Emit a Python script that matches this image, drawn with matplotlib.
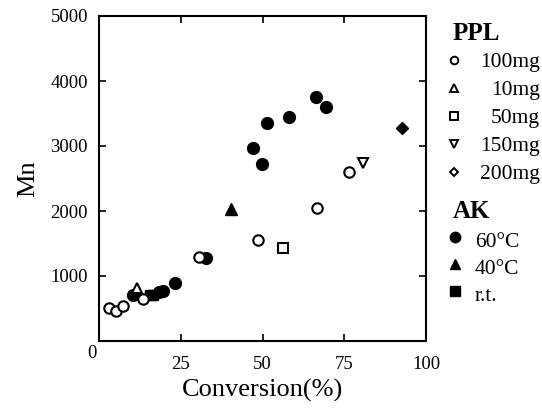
import matplotlib.pyplot as plt
from matplotlib.lines import Line2D

plt.rcParams['font.family'] = ['Liberation Serif', 'DejaVu Serif']

# AK series (filled)
ak60_x = [10.4, 18.5, 19.5, 23.3, 32.6, 47.1, 49.9, 51.4, 58.0, 66.3, 69.4]
ak60_y = [705, 760, 765, 885, 1283, 2965, 2725, 3359, 3441, 3757, 3604]
ak40_x = [40.4]
ak40_y = [2024]
akrt_x = [15.6, 16.6]
akrt_y = [705, 705]
ak200_x = [92.6]
ak200_y = [3277]

# PPL series (open)
ppl100_x = [3.1, 5.1, 7.3, 13.4, 30.5, 48.7, 66.8, 76.3]
ppl100_y = [511, 460, 541, 640, 1288, 1549, 2045, 2597]
ppl10_x = [11.7]
ppl10_y = [823]
ppl50_x = [56.3]
ppl50_y = [1431]
ppl150_x = [80.7]
ppl150_y = [2741]

ppl_labels = ['100mg', '10mg', '50mg', '150mg', '200mg']
ppl_markers = ['o', '^', 's', 'v', 'D']
ak_labels = ['60°C', '40°C', 'r.t.']
ak_markers = ['o', '^', 's']

W, H = 542, 411
fig = plt.figure(figsize=(W / 100, H / 100), dpi=100)
ax = fig.add_axes([99 / W, 1 - 341 / H, 327 / W, 325 / H])

ms = 8.5
ax.plot(ak60_x, ak60_y, 'o', color='black', ms=ms, ls='none')
ax.plot(ak40_x, ak40_y, '^', color='black', ms=ms, ls='none')
ax.plot(akrt_x, akrt_y, 's', color='black', ms=7, ls='none')
ax.plot(ak200_x, ak200_y, 'D', color='black', ms=6.5, ls='none')

open_kw = dict(mfc='white', mec='black', mew=1.5, ls='none')
ax.plot(ppl100_x, ppl100_y, 'o', ms=7.5, **open_kw)
ax.plot(ppl10_x, ppl10_y, '^', ms=7.5, **open_kw)
ax.plot(ppl50_x, ppl50_y, 's', ms=7.5, **open_kw)
ax.plot(ppl150_x, ppl150_y, 'v', ms=7.5, **open_kw)

ax.set_xlim(0, 98.8)
ax.set_ylim(0, 5000)
ax.set_xticks([0, 25, 50, 75, 100])
ax.set_xticklabels(['', '25', '50', '75', '100'])
ax.set_yticks([1000, 2000, 3000, 4000, 5000])
ax.tick_params(direction='in', top=True, right=True, length=5, width=1.2,
               labelsize=13.5)
ax.tick_params(axis='x', pad=11)
ax.tick_params(axis='y', pad=8)
for s in ax.spines.values():
    s.set_linewidth(1.5)
fig.text(92 / W, 1 - 353 / H, '0', ha='center', va='center', fontsize=13.5)

ax.set_xlabel('Conversion(%)', fontsize=19, labelpad=4)
ax.set_ylabel('Mn', fontsize=19, labelpad=8)


def fx(x):
    return x / W


def fy(y):
    return 1 - y / H


def key(x, y, m, filled, size):
    if filled:
        ln = Line2D([fx(x)], [fy(y)], marker=m, color='black', ls='none', ms=size,
                    transform=fig.transFigure)
    else:
        ln = Line2D([fx(x)], [fy(y)], marker=m, mfc='white', mec='black', mew=1.4,
                    ls='none', ms=size, transform=fig.transFigure)
    fig.add_artist(ln)


# PPL legend block
fig.text(fx(453), fy(40), 'PPL', fontsize=18, fontweight='bold', va='baseline')
row_y = [60, 88, 116, 144, 172]
for lab, m, yy in zip(ppl_labels, ppl_markers, row_y):
    key(454, yy, m, False, 5.5 if m != 'D' else 4.5)
    fig.text(fx(540), fy(yy + 7), lab, fontsize=15.5, ha='right', va='baseline')

# AK legend block
fig.text(fx(453), fy(218), 'AK', fontsize=18, fontweight='bold', va='baseline')
ak_y = [240, 267, 294]
for lab, m, yy in zip(ak_labels, ak_markers, ak_y):
    key(455, yy - 3, m, True, 7.5 if m != 's' else 6.5)
    fig.text(fx(475), fy(yy + 7), lab, fontsize=15.5, ha='left', va='baseline')

fig.savefig('out.png', dpi=100)
